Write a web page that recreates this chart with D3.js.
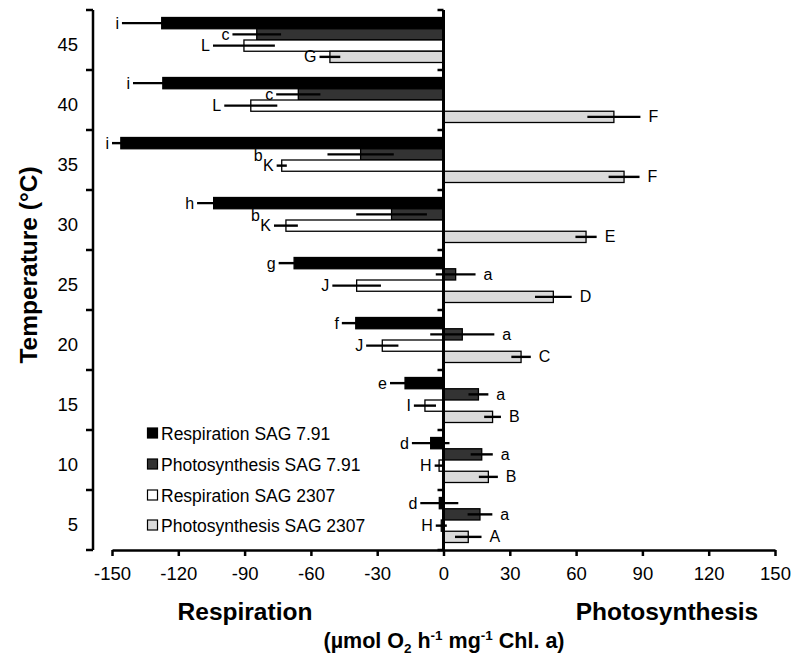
<!DOCTYPE html>
<html>
<head>
<meta charset="utf-8">
<script src="https://cdn.jsdelivr.net/npm/d3@7"></script>
<style>
  html, body { margin: 0; padding: 0; background: #fff; }
  svg { display: block; font-family: "Liberation Sans", Arial, sans-serif; }
</style>
</head>
<body>
<svg id="chart" width="800" height="661"></svg>
<script>
// ---- data ----
const temps = [45, 40, 35, 30, 25, 20, 15, 10, 5];
const xTicks = [-150, -120, -90, -60, -30, 0, 30, 60, 90, 120, 150];

const respSAG791     = [-127.5, -127, -146, -104, -67.6, -39.7, -17.4, -5.8, -1.9];
const respSAG791Err  = [18, 13.5, 4, 7.5, 7, 6.3, 6.8, 8.5, 8.6];
const respSAG791Let  = ['i', 'i', 'i', 'h', 'g', 'f', 'e', 'd', 'd'];

const photoSAG791    = [-84.5, -65.7, -37.5, -23.5, 5.5, 8.5, 15.8, 17.3, 16.5];
const photoSAG791Err = [11, 10, 15, 16, 9, 14.5, 4.5, 5, 5.6];
const photoSAG791Let = ['c', 'c', 'b', 'b', 'a', 'a', 'a', 'a', 'a'];

const respSAG2307    = [-90.3, -87.2, -73.2, -71.3, -39.3, -27.7, -8.4, -2, -1];
const respSAG2307Err = [14, 12, 2.3, 5.4, 11, 7.3, 5, 2, 2.5];
const respSAG2307Let = ['L', 'L', 'K', 'K', 'J', 'J', 'I', 'H', 'H'];

const photoSAG2307    = [-51.4, 77.1, 81.7, 64.5, 49.7, 35.1, 22.2, 20.3, 11.2];
const photoSAG2307Err = [4.7, 12, 7, 4.8, 8.3, 4.4, 3.8, 4.3, 6];
const photoSAG2307Let = ['G', 'F', 'F', 'E', 'D', 'C', 'B', 'B', 'A'];

const seriesNames = ['Respiration SAG 7.91', 'Photosynthesis SAG 7.91', 'Respiration SAG 2307', 'Photosynthesis SAG 2307'];
const seriesFill  = ['#000000', '#333333', '#ffffff', '#dadada'];

// ---- build ----
const series = [
  { key: 'r791', vals: respSAG791, err: respSAG791Err, let: respSAG791Let },
  { key: 'p791', vals: photoSAG791, err: photoSAG791Err, let: photoSAG791Let },
  { key: 'r2307', vals: respSAG2307, err: respSAG2307Err, let: respSAG2307Let },
  { key: 'p2307', vals: photoSAG2307, err: photoSAG2307Err, let: photoSAG2307Let }
];
series.forEach((s, i) => { s.name = seriesNames[i]; s.fill = seriesFill[i]; });

const svg = d3.select('#chart');
const FONT = '"Liberation Sans", Arial, sans-serif';

const x = d3.scaleLinear().domain([-150, 150]).range([112, 775]);
const y = d3.scaleBand().domain(temps).range([10, 550]).paddingInner(0.25).paddingOuter(0.125);
const yIn = d3.scaleBand().domain(series.map(s => s.key)).range([0, y.bandwidth()]);

const rows = [];
series.forEach(s => {
  temps.forEach((t, i) => {
    rows.push({ s, t, i, v: s.vals[i], e: s.err[i], l: s.let[i] });
  });
});

// bars
const gBars = svg.append('g');
gBars.selectAll('rect').data(rows).join('rect')
  .attr('x', d => Math.min(x(0), x(d.v)))
  .attr('y', d => y(d.t) + yIn(d.s.key))
  .attr('width', d => Math.abs(x(d.v) - x(0)))
  .attr('height', yIn.bandwidth())
  .attr('fill', d => d.s.fill)
  .attr('stroke', '#000')
  .attr('stroke-width', 1.3);

// error bars
const cy = d => y(d.t) + yIn(d.s.key) + yIn.bandwidth() / 2;
svg.append('g').selectAll('line').data(rows).join('line')
  .attr('x1', d => x(d.v - d.e))
  .attr('x2', d => x(d.v + d.e))
  .attr('y1', cy).attr('y2', cy)
  .attr('stroke', '#000').attr('stroke-width', 2.4);

// letters
function letterPos(d) {
  if (d.v < 0) return { x: x(d.v - d.e) - 3, anchor: 'end', y: cy(d) + 5.5 };
  return { x: x(d.v + d.e) + 8, anchor: 'start', y: cy(d) + 5.5 };
}
const gLet = svg.append('g').attr('font-family', FONT).attr('font-size', 16).attr('fill', '#000');
rows.forEach(d => {
  let p = letterPos(d);
  if (d.s.key === 'p791' && d.l === 'b') {
    // letter sits just left of the Respiration SAG 2307 letter below it
    const w = rows.find(r => r.s.key === 'r2307' && r.t === d.t);
    const wp = letterPos(w);
    p = { x: wp.x - 11, anchor: 'end', y: cy(d) + 7 };
  }
  gLet.append('text').attr('x', p.x).attr('y', p.y).attr('text-anchor', p.anchor).text(d.l);
});

// Y axis (left)
const yTickPos = d3.range(0, temps.length + 1).map(k => 10 + k * y.step());
const gY = svg.append('g');
gY.append('line').attr('x1', 93).attr('x2', 93).attr('y1', 10).attr('y2', 550)
  .attr('stroke', '#000').attr('stroke-width', 2.5);
gY.selectAll('line.tk').data(yTickPos).join('line').attr('class', 'tk')
  .attr('x1', 86).attr('x2', 93).attr('y1', d => d).attr('y2', d => d)
  .attr('stroke', '#000').attr('stroke-width', 2.5);
gY.selectAll('text').data(temps).join('text')
  .attr('x', 78).attr('y', d => y(d) - y.step() * 0.125 + y.step() / 2 + 11)
  .attr('text-anchor', 'end').attr('font-family', FONT).attr('font-size', 18.5)
  .text(d => d);

// zero line
const gZ = svg.append('g');
gZ.append('line').attr('x1', x(0)).attr('x2', x(0)).attr('y1', 10).attr('y2', 550)
  .attr('stroke', '#000').attr('stroke-width', 3);
gZ.selectAll('line.tk').data(yTickPos).join('line').attr('class', 'tk')
  .attr('x1', x(0) - 6).attr('x2', x(0)).attr('y1', d => d).attr('y2', d => d)
  .attr('stroke', '#000').attr('stroke-width', 2.5);

// X axis
const gX = svg.append('g').attr('transform', 'translate(0,550)')
  .call(d3.axisBottom(x).tickValues(xTicks).tickSize(6).tickSizeOuter(0).tickPadding(11).tickFormat(d3.format('d')));
gX.select('.domain').attr('stroke', '#000').attr('stroke-width', 2.5);
gX.selectAll('.tick line').attr('stroke', '#000').attr('stroke-width', 2.5);
gX.selectAll('.tick text').attr('font-family', FONT).attr('font-size', 18.5).attr('fill', '#000')
  .text(d => d < 0 ? '-' + Math.abs(d) : d);

// axis titles
svg.append('text')
  .attr('transform', 'translate(37,265) rotate(-90)')
  .attr('text-anchor', 'middle').attr('font-family', FONT).attr('font-weight', 'bold').attr('font-size', 24.5)
  .text('Temperature (°C)');
svg.append('text').attr('x', 245).attr('y', 620).attr('text-anchor', 'middle')
  .attr('font-family', FONT).attr('font-weight', 'bold').attr('font-size', 24.5).text('Respiration');
svg.append('text').attr('x', 667).attr('y', 620).attr('text-anchor', 'middle')
  .attr('font-family', FONT).attr('font-weight', 'bold').attr('font-size', 24.5).text('Photosynthesis');
const unit = svg.append('text').attr('x', 444).attr('y', 648).attr('text-anchor', 'middle')
  .attr('font-family', FONT).attr('font-weight', 'bold').attr('font-size', 21.5);
unit.append('tspan').text('(µmol O');
unit.append('tspan').attr('font-size', 13.5).attr('dy', 5).text('2');
unit.append('tspan').attr('dy', -5).text(' h');
unit.append('tspan').attr('font-size', 13.5).attr('dy', -8).text('-1');
unit.append('tspan').attr('dy', 8).text(' mg');
unit.append('tspan').attr('font-size', 13.5).attr('dy', -8).text('-1');
unit.append('tspan').attr('dy', 8).text(' Chl. a)');

// legend
const legY = [433, 464, 495, 525];
const gL = svg.append('g');
series.forEach((s, i) => {
  gL.append('rect').attr('x', 147.5).attr('y', legY[i] - 5).attr('width', 10).attr('height', 10)
    .attr('fill', s.fill).attr('stroke', '#000').attr('stroke-width', 1.2);
  gL.append('text').attr('x', 161).attr('y', legY[i] + 6.5)
    .attr('font-family', FONT).attr('font-size', 17.5).text(s.name);
});
</script>
</body>
</html>
